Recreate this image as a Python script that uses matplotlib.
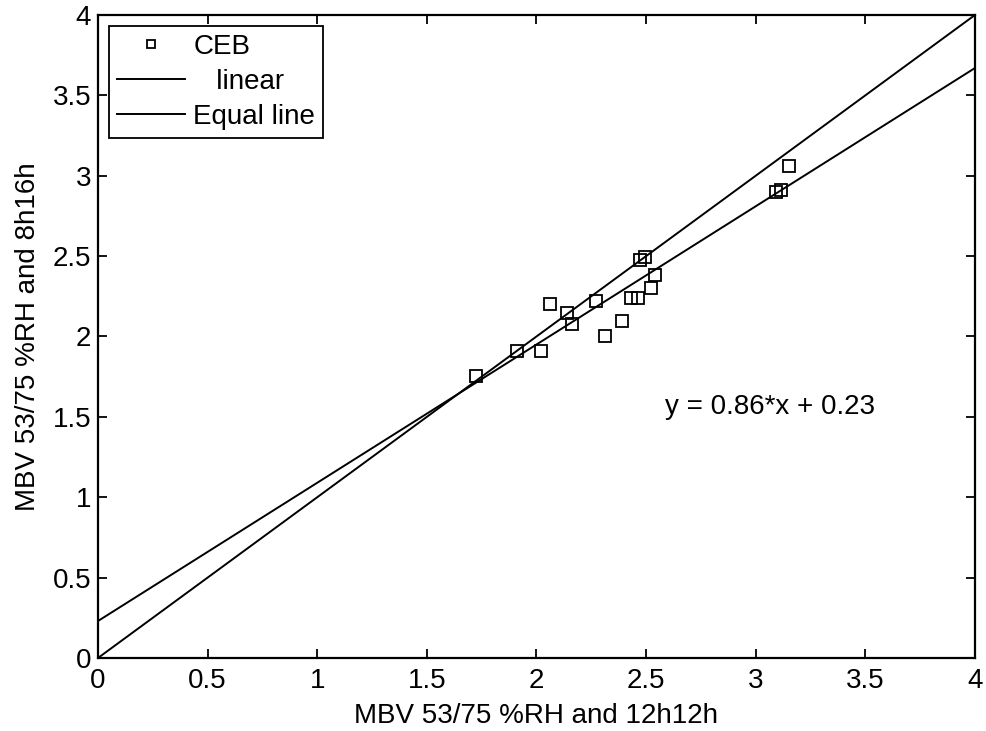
import numpy as np
import matplotlib
matplotlib.use("Agg")
import matplotlib.pyplot as plt

plt.rcParams['font.family'] = ['Liberation Sans', 'DejaVu Sans']

# Measured moisture buffer values for CEB samples
mbv_12h12h = [1.723, 1.912, 2.022, 2.062, 2.141, 2.162, 2.271, 2.311, 2.390,
              2.431, 2.463, 2.473, 2.493, 2.521, 2.542, 3.092, 3.117, 3.152]
mbv_8h16h = [1.754, 1.912, 1.912, 2.202, 2.144, 2.080, 2.223, 2.001, 2.095,
             2.241, 2.241, 2.476, 2.493, 2.300, 2.383, 2.900, 2.910, 3.060]

# Linear fit coefficients
fit_slope = 0.86
fit_intercept = 0.23

x_ticks = [0, 0.5, 1, 1.5, 2, 2.5, 3, 3.5, 4]
y_ticks = [0, 0.5, 1, 1.5, 2, 2.5, 3, 3.5, 4]

FS = 20

fig = plt.figure(figsize=(9.87, 7.31), dpi=100)
ax = fig.add_axes([0.0993, 0.0999, 0.8885, 0.8796])

ax.plot(mbv_12h12h, mbv_8h16h, linestyle='none', marker='s', markersize=8.5,
        markerfacecolor='none', markeredgecolor='black', markeredgewidth=1.3,
        label='CEB')

xl = np.array([0.0, 4.0])
ax.plot(xl, fit_slope * xl + fit_intercept, color='black', linewidth=1.4,
        label='   linear')
ax.plot(xl, xl, color='black', linewidth=1.4, label='Equal line')

ax.text(2.585, 1.52, 'y = 0.86*x + 0.23', fontsize=FS, va='baseline', ha='left')

ax.set_xlim(0, 4)
ax.set_ylim(0, 4)
ax.set_xticks(x_ticks)
ax.set_yticks(y_ticks)
ax.set_xticklabels([f'{t:g}' for t in x_ticks])
ax.set_yticklabels([f'{t:g}' for t in y_ticks])
ax.tick_params(direction='in', length=6.5, width=1.3, top=True, right=True,
               labelsize=FS)
ax.tick_params(axis='x', pad=7)
ax.tick_params(axis='y', pad=5)
for sp in ax.spines.values():
    sp.set_linewidth(1.6)

ax.set_xlabel('MBV 53/75 %RH and 12h12h', fontsize=FS, labelpad=7)
ax.set_ylabel('MBV 53/75 %RH and 8h16h', fontsize=FS, labelpad=8)

leg = ax.legend(loc='upper left', fontsize=FS, frameon=True, fancybox=False,
                edgecolor='black', framealpha=1, borderaxespad=0.4,
                handlelength=2.45, handletextpad=0.3, borderpad=0.28,
                labelspacing=0.33, markerscale=0.65)
leg.get_frame().set_linewidth(1.3)

fig.savefig('out.png', dpi=100)
